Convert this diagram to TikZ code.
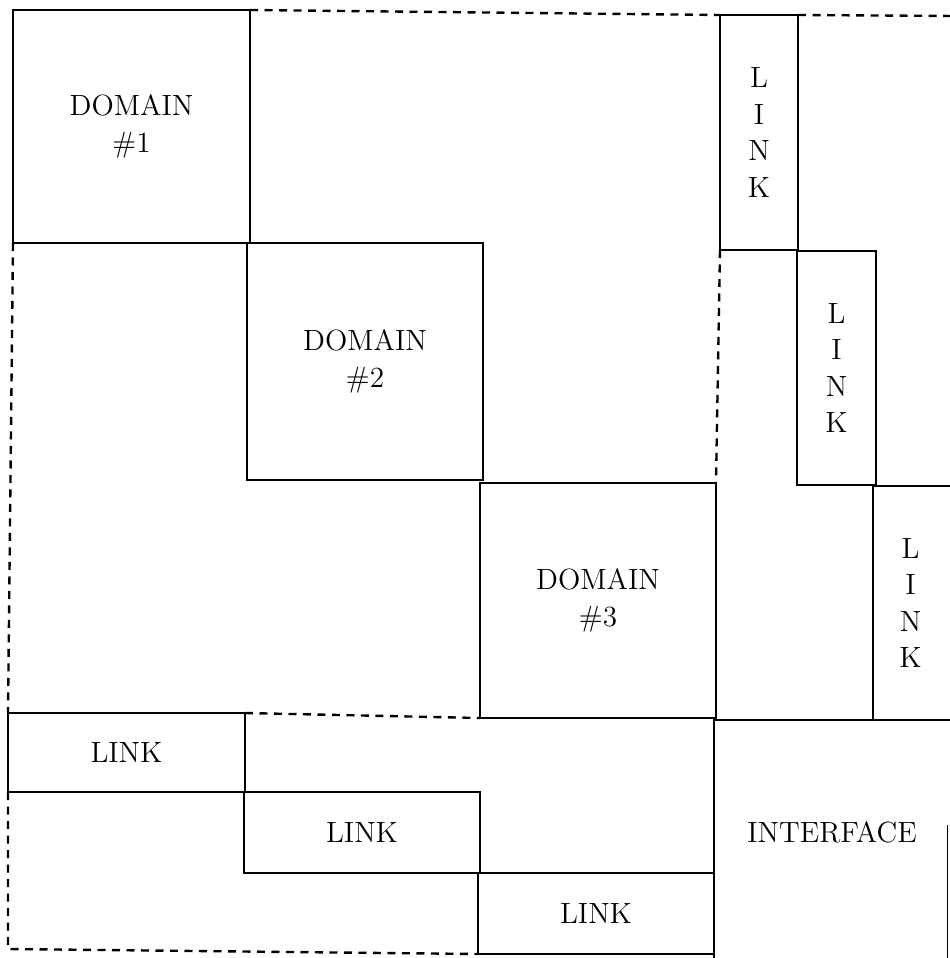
\documentclass[tikz,border=0pt]{standalone}
\usetikzlibrary{fit}
\begin{document}
\begin{tikzpicture}[x=0.4pt,y=-0.4pt,
  box/.style={draw, line width=0.95pt, inner sep=0pt, outer sep=0pt},
  lbl/.style={inner sep=0pt, align=center, font=\fontsize{11.7}{14.6}\selectfont},
  bound/.style={line width=0.95pt, dash pattern=on 3.2pt off 2.6pt}]
\useasboundingbox (0,0) rectangle (949,958);
% domains
\node[box, fit={(13,10) (250,243)}] (d1) {};
\node[box, fit={(247,243) (483,480)}] (d2) {};
\node[box, fit={(480,483) (716,718)}] (d3) {};
% vertical links
\node[box, fit={(720,15) (798,250)}] (lv1) {};
\node[box, fit={(797,251) (876,485)}] (lv2) {};
\node[box, fit={(873,486) (954,720)}] (lv3) {};
% horizontal links
\node[box, fit={(8,713) (245,792)}] (lh1) {};
\node[box, fit={(244,792) (480,873)}] (lh2) {};
\node[box, fit={(478,873) (714,954)}] (lh3) {};
% interface
\node[box, fit={(714,720) (954,966)}] (itf) {};
% labels
\node[lbl] (td1) at (d1.center) {DOMAIN\\\#1};
\node[lbl] (td2) at (d2.center) {DOMAIN\\\#2};
\node[lbl] (td3) at (d3.center) {DOMAIN\\\#3};
\node[lbl] (tv1) at (lv1.center) {L\\I\\N\\K};
\node[lbl] (tv2) at (lv2.center) {L\\I\\N\\K};
\node[lbl] (tv3) at ([xshift=-1.2pt]lv3.center) {L\\I\\N\\K};
\node[lbl] (th1) at (lh1.center) {LINK};
\node[lbl] (th2) at (lh2.center) {LINK};
\node[lbl] (th3) at (lh3.center) {LINK};
\node[lbl] (tif) at (832,832) {INTERFACE};
% outer boundary (dashed)
\coordinate (tr) at (954,16);
\coordinate (bl) at (8,949);
\draw[bound] (d1.north east) -- (lv1.north west);
\draw[bound] (lv1.north east) -- (tr);
\draw[bound] (d1.south west) -- (lh1.north west);
\draw[bound] (lh1.south west) -- (bl) -- (lh3.south west);
\draw[bound] (lh1.north east) -- (d3.south west);
\draw[bound] (lv1.south west) -- (d3.north east);
% faint edge at the right
\coordinate (e1) at (947,825);
\coordinate (e2) at (947,958);
\draw[line width=0.4pt] (e1) -- (e2);
\end{tikzpicture}
\end{document}
